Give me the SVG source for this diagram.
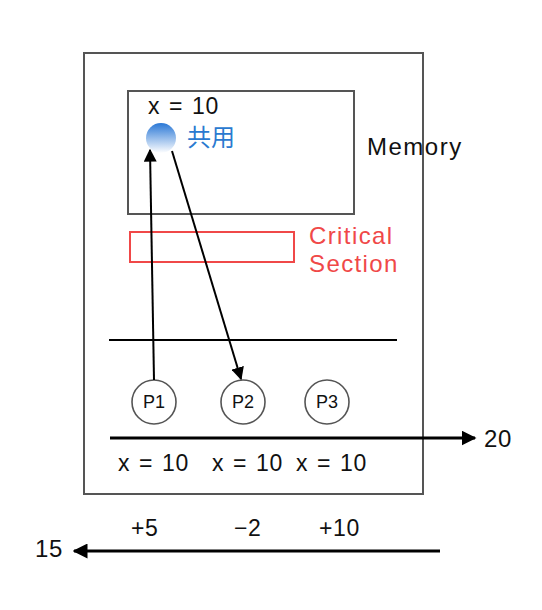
<svg xmlns="http://www.w3.org/2000/svg" width="542" height="610" viewBox="0 0 542 610">
<style>
text{font-family:"Liberation Sans","Noto Sans CJK SC",sans-serif;font-size:23px;fill:#111;letter-spacing:0.6px;word-spacing:2px}
.box{fill:none;stroke:#555;stroke-width:2}
.p{fill:#fff;stroke:#555;stroke-width:1.6}
.pl{font-size:18px;text-anchor:middle;letter-spacing:0}
.ln{stroke:#000;stroke-width:2;fill:none}
.red{fill:#f04848;font-size:24px;letter-spacing:1.4px}
</style>
<defs>
<marker id="ah" viewBox="0 0 10 10" refX="9" refY="5" markerWidth="6.5" markerHeight="6.5" orient="auto" markerUnits="strokeWidth"><path d="M0,0L10,5L0,10z" fill="#000"/></marker>
<marker id="ah2" viewBox="0 0 10 10" refX="9" refY="5" markerWidth="5" markerHeight="5" orient="auto" markerUnits="strokeWidth"><path d="M0,0L10,5L0,10z" fill="#000"/></marker>
<linearGradient id="g" x1="0" y1="0" x2="0" y2="1"><stop offset="0" stop-color="#2a78d6"/><stop offset="1" stop-color="#ffffff"/></linearGradient>
</defs>
<g id="outer"><rect class="box" x="84" y="53" width="339" height="441"/><text x="367" y="155" style="font-size:24px;letter-spacing:1.5px">Memory</text></g>
<g id="memory"><rect class="box" x="128" y="91" width="226" height="123"/><text x="148" y="114">x = 10</text></g>
<g id="shared"><circle cx="161" cy="138" r="15" fill="url(#g)"/><text x="187" y="146" style="fill:#2a7ad0;font-size:24px;letter-spacing:0">共用</text></g>
<g id="critical"><rect x="130" y="232" width="164" height="30" fill="none" stroke="#f04848" stroke-width="2"/><text class="red" x="309" y="244">Critical</text><text class="red" x="309" y="272">Section</text></g>
<g id="P1"><circle class="p" cx="154" cy="402" r="22"/><text class="pl" x="154" y="408">P1</text></g>
<g id="P2"><circle class="p" cx="243" cy="402" r="22"/><text class="pl" x="243" y="408">P2</text></g>
<g id="P3"><circle class="p" cx="327" cy="402" r="22"/><text class="pl" x="327" y="408">P3</text></g>
<g id="labels">
<text x="118" y="471">x = 10</text><text x="212" y="471">x = 10</text><text x="296" y="471">x = 10</text>
<text x="484" y="447" style="font-size:24px">20</text><text x="35" y="557" style="font-size:24px">15</text>
<text x="131" y="536">+5</text><text x="234" y="536">−2</text><text x="319" y="536">+10</text>
</g>
<g id="connectors">
<line class="ln" x1="109" y1="340" x2="397" y2="340"/>
<line class="ln" x1="154" y1="380" x2="150" y2="150" marker-end="url(#ah)"/>
<line class="ln" x1="172" y1="151" x2="241" y2="379" marker-end="url(#ah)"/>
<line class="ln" x1="110" y1="438" x2="475" y2="438" style="stroke-width:3" marker-end="url(#ah2)"/>
<line class="ln" x1="440" y1="551" x2="74" y2="551" style="stroke-width:3" marker-end="url(#ah2)"/>
</g>
</svg>
